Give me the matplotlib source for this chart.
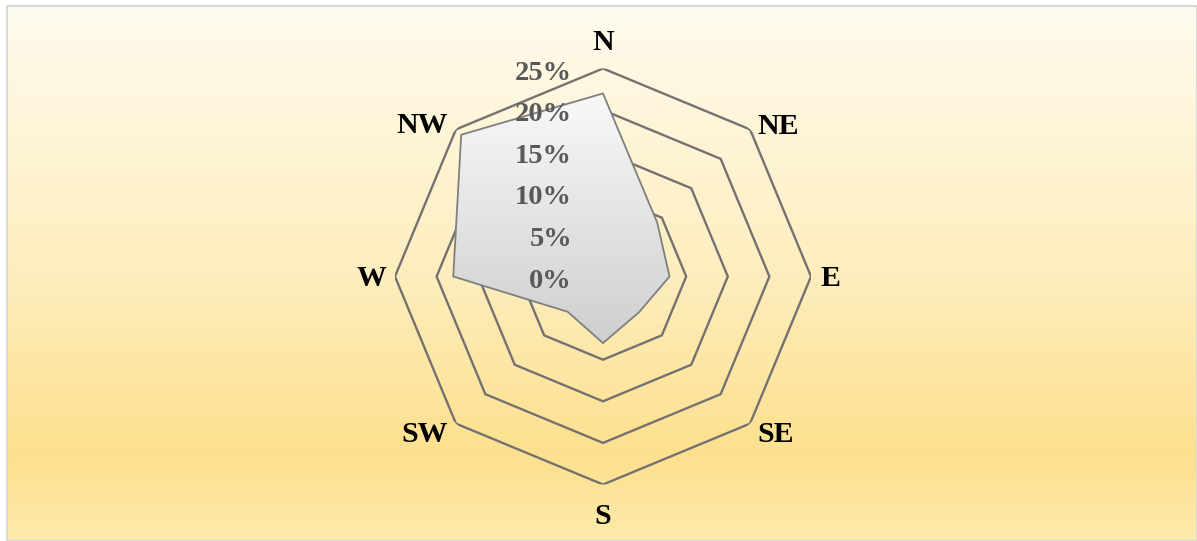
import numpy as np
import matplotlib
matplotlib.use("Agg")
import matplotlib.pyplot as plt
from matplotlib.patches import Polygon, Rectangle
from matplotlib.colors import LinearSegmentedColormap

# ---- data ----
directions = ["N", "NE", "E", "SE", "S", "SW", "W", "NW"]
values = [22.0, 9.2, 8.0, 6.1, 8.0, 6.0, 18.0, 24.1]   # percent
ring_levels = [5, 10, 15, 20, 25]
tick_levels = [0, 5, 10, 15, 20, 25]
tick_labels = ["0%", "5%", "10%", "15%", "20%", "25%"]
r_max = 25

W, H = 1197, 541
DPI = 100
fig = plt.figure(figsize=(W / DPI, H / DPI), dpi=DPI)
fig.patch.set_facecolor("white")

# ---- chart area background (gradient) ----
bg = fig.add_axes([0, 0, 1, 1], zorder=0)
bg.axis("off")
bg_cmap = LinearSegmentedColormap.from_list(
    "bg",
    [(0.0, (255/255, 251/255, 238/255)),
     (0.5, (254/255, 238/255, 190/255)),
     (0.84, (253/255, 224/255, 142/255)),
     (1.0, (254/255, 234/255, 172/255))])
grad = np.linspace(0, 1, 512).reshape(-1, 1)
bg.imshow(grad, cmap=bg_cmap, aspect="auto", extent=[7, W, H, 6],
          interpolation="bicubic")
bg.add_patch(Rectangle((7, 6), W - 7.5, H - 6, fill=False,
                       edgecolor="#D9D9D9", linewidth=1.5))
bg.set_xlim(0, W)
bg.set_ylim(H, 0)

# ---- polar axes ----
cx, cy, R = 603, 276.5, 208
pos = [(cx - R) / W, (H - cy - R) / H, 2 * R / W, 2 * R / H]
ax = fig.add_axes(pos, projection="polar", zorder=1)
ax.set_facecolor("none")
ax.set_theta_zero_location("N")
ax.set_theta_direction(-1)
ax.set_ylim(0, r_max)
ax.grid(False)
ax.spines["polar"].set_visible(False)
ax.set_xticks([])
ax.set_yticks([])

theta = np.deg2rad(np.arange(len(directions)) * 360 / len(directions))
theta_c = np.append(theta, theta[0])

grid_color = "#767171"
for lvl in ring_levels:
    ax.plot(theta_c, [lvl] * len(theta_c), color=grid_color, lw=1.7,
            solid_joinstyle="miter", zorder=2)

# category labels
lab_off = {"N": (0, 18), "NE": (28, -5), "E": (19, -10), "SE": (26, -18),
           "S": (0, -40), "SW": (-31, -18), "W": (-23, -10), "NW": (-34, -4)}
for th, name in zip(theta, directions):
    ax.annotate(name, xy=(th, r_max), xytext=lab_off[name],
                textcoords="offset pixels", ha="center", va="baseline",
                fontsize=21.5, fontweight="bold", family="Liberation Serif",
                color="black", annotation_clip=False)

# data polygon (clip path)
vals_c = np.append(values, values[0])
clip_poly = ax.fill(theta_c, vals_c, facecolor="none", edgecolor="none")[0]

# ---- overlay axes for gradient fill, edge and tick labels ----
ax2 = fig.add_axes(pos, zorder=2)
ax2.set_facecolor("none")
ax2.axis("off")
poly_cmap = LinearSegmentedColormap.from_list(
    "poly", [(0.0, (0.81, 0.81, 0.81)), (1.0, (0.975, 0.975, 0.975))])
yv = 0.5 + np.array(values) * np.cos(theta) / (2 * r_max)
im = ax2.imshow(np.linspace(0, 1, 256).reshape(-1, 1), cmap=poly_cmap,
                origin="lower", aspect="auto",
                extent=[0, 1, yv.min(), yv.max()], interpolation="bicubic")
im.set_clip_path(clip_poly)
edge = Polygon(np.column_stack([theta, values]), closed=True,
               transform=ax.transData, fill=False, edgecolor="#7F7F7F",
               linewidth=1.3)
ax2.add_patch(edge)
ax2.set_xlim(0, 1)
ax2.set_ylim(0, 1)

for lvl, txt in zip(tick_levels, tick_labels):
    ax2.annotate(txt, xy=(0, lvl), xycoords=ax.transData, xytext=(-31, -11),
                 textcoords="offset pixels", ha="right", va="baseline",
                 fontsize=20.5, fontweight="bold", family="Liberation Serif",
                 color="#595959", annotation_clip=False)

fig.savefig("out.png", dpi=DPI)
